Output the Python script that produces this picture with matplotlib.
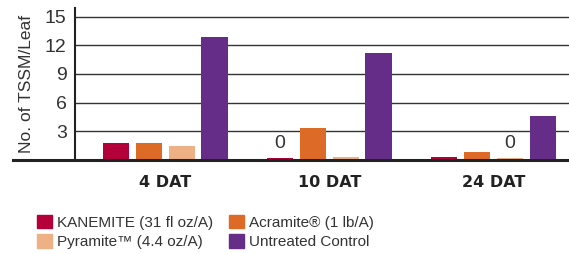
import numpy as np
import matplotlib
matplotlib.use("Agg")
import matplotlib.pyplot as plt
from matplotlib.patches import Patch

plt.rcParams['font.family'] = ['Liberation Sans', 'DejaVu Sans']

# data
groups = ['4 DAT', '10 DAT', '24 DAT']
series = ['KANEMITE (31 fl oz/A)', 'Acramite® (1 lb/A)', 'Pyramite™ (4.4 oz/A)', 'Untreated Control']
kanemite = [1.8, 0.25, 0.35]
acramite = [1.8, 3.3, 0.85]
pyramite = [1.5, 0.35, 0.25]
untreated = [12.9, 11.2, 4.6]
yticks = [3, 6, 9, 12, 15]
zero_marks = [(1, 0), (2, 2)]  # (group, series) with a "0" label

colors = ['#B3003A', '#DD6A27', '#EEB085', '#652D88']
values = [kanemite, acramite, pyramite, untreated]

fig = plt.figure(figsize=(5.69, 2.54), dpi=100)
ax = fig.add_axes([75 / 569, 94 / 254, 494 / 569, 152 / 254])

x = np.arange(len(groups))
step = 0.2
width = 0.16
for i, (vals, col) in enumerate(zip(values, colors)):
    ax.bar(x + (i - 1.5) * step, vals, width, color=col, zorder=3)

for g, s in zero_marks:
    ax.text(g + (s - 1.5) * step, 0.8, '0', ha='center', va='bottom',
            fontsize=14, color='#333333')

ax.set_xlim(-0.55, 2.46)
ax.set_ylim(0, 15.9)
ax.set_yticks(yticks)
ax.set_yticklabels([str(t) for t in yticks], fontsize=14, color='#333333')
ax.tick_params(axis='y', length=0, pad=6)
ax.set_xticks(x)
ax.set_xticklabels(groups, fontsize=11.5, fontweight='bold', family='DejaVu Sans', color='#222222')
ax.tick_params(axis='x', length=0, pad=11)
for t in yticks:
    ax.axhline(t, color='#333333', lw=1.0, zorder=1)

for s in ['top', 'right', 'bottom']:
    ax.spines[s].set_visible(False)
ax.spines['left'].set_color('#222222')
ax.spines['left'].set_linewidth(1.5)

ax.plot([-62 / 494, 1], [0, 0], transform=ax.get_yaxis_transform(),
        color='#222222', lw=2.2, clip_on=False, zorder=4)

ax.set_ylabel('No. of TSSM/Leaf', fontsize=12.5, color='#333333', labelpad=8)

order = [0, 2, 1, 3]
handles = [Patch(color=colors[i]) for i in order]
labels = [series[i] for i in order]
fig.legend(handles, labels, loc='upper left', bbox_to_anchor=(37 / 569, 1 - 215 / 254),
           ncol=2, frameon=False, fontsize=11, handlelength=0.95, handleheight=0.95,
           handletextpad=0.35, columnspacing=1.05, labelspacing=0.3, borderaxespad=0,
           borderpad=0, labelcolor='#333333')

fig.savefig('out.png', dpi=100)
